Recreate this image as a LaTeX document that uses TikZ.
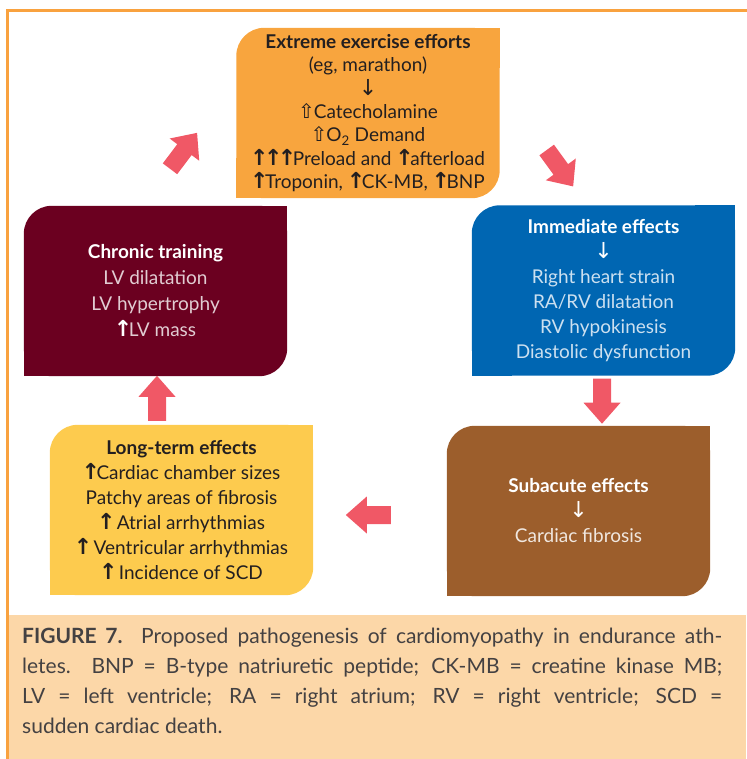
\documentclass[tikz,border=0pt]{standalone}
\usepackage{fontspec}
\setmainfont{Lato}
\newfontfamily\arrowfont{DejaVu Sans}
\usetikzlibrary{calc,backgrounds}

\definecolor{frameorange}{HTML}{F9A23F}
\definecolor{exercise}{HTML}{F8A53E}
\definecolor{chronic}{HTML}{6B0020}
\definecolor{immediate}{HTML}{0066B2}
\definecolor{subacute}{HTML}{9C5E2C}
\definecolor{longterm}{HTML}{FDCB4E}
\definecolor{arrowpink}{HTML}{F05866}
\definecolor{captionbg}{HTML}{FCD7A8}
\definecolor{darktext}{HTML}{231F20}

\newcommand{\upa}{{\arrowfont\bfseries\fontsize{22}{0}\selectfont\kern-1pt↑\kern-3.5pt}}
\newcommand{\downa}{{\arrowfont\fontsize{22}{0}\selectfont ↓}}
\newcommand{\hollowup}{{\arrowfont\fontsize{20}{0}\selectfont ⇧\kern-1pt}}

\tikzset{
	box/.style={minimum width=263pt, minimum height=170pt, inner sep=0pt, align=center,
		font=\fontsize{19}{25}\selectfont},
	fat/.pic={\fill[arrowpink] (0,9) -- (24,9) -- (24,18.5) -- (45,0) -- (24,-18.5) -- (24,-9) -- (0,-9) -- cycle;}
}

\begin{document}
\begin{tikzpicture}[x=1pt,y=-1pt]
	\useasboundingbox (0,0) rectangle (746,759);
	\fill[captionbg] (7,615) rectangle (746,759);
	\draw[frameorange, line width=3pt] (760,11) -- (7,11) -- (7,770);

	\node[box, text=darktext, font=\fontsize{19}{23.4}\selectfont] (ext) at (368,113) {\textbf{Extreme exercise efforts}\\(eg, marathon)\\\downa\\\hollowup Catecholamine\\\hollowup O\textsubscript{2} Demand\\\upa\upa\upa Preload and \upa afterload\\\upa Troponin, \upa CK-MB, \upa BNP};
	\node[box, text=white] (imm) at (603.5,290.5) {\textbf{Immediate effects}\\\downa\\\color{white!80!immediate}Right heart strain\\\color{white!80!immediate}RA/RV dilatation\\\color{white!80!immediate}RV hypokinesis\\\color{white!80!immediate}Diastolic dysfunction};
	\node[box, text=white] (sub) at (578.5,511) {\textbf{Subacute effects}\\\downa\\\color{white!85!subacute}Cardiac fibrosis};
	\node[box, text=darktext] (lng) at (181.5,510) {\textbf{Long-term effects}\\\upa Cardiac chamber sizes\\Patchy areas of fibrosis\\\upa\ Atrial arrhythmias\\\upa\ Ventricular arrhythmias\\\upa\ Incidence of SCD};
	\node[box, text=white, font=\fontsize{19}{26}\selectfont] (chr) at (155.5,291) {\textbf{Chronic training}\\\color{white!80!chronic}LV dilatation\\\color{white!80!chronic}LV hypertrophy\\\upa\color{white!80!chronic}LV mass};

	% rounded top-left and bottom-right corners only
	\begin{scope}[on background layer]
		\foreach \n/\c in {ext/exercise, imm/immediate, sub/subacute, lng/longterm, chr/chronic}{
			\fill[\c, rounded corners=28pt] (\n.north west) rectangle (\n.south east);
			\fill[\c] (\n.north east) rectangle ++(-40,40);
			\fill[\c] (\n.south west) rectangle ++(40,-40);
		}
	\end{scope}

	\pic[rotate=-54] at ($(ext.east)+(47,37)$) {fat};
	\pic[rotate=-90] at ($(imm.south)+(-1.5,3)$) {fat};
	\pic[rotate=180] at ($(sub.west)+(-56,4)$) {fat};
	\pic[rotate=90] at ($(lng.north)+(-24.5,-4)$) {fat};
	\pic[rotate=53] at ($(chr.north)+(14.5,-37)$) {fat};

	\node[anchor=north west, inner sep=0pt, align=left, text=darktext!85,
		font=\fontsize{21}{30}\selectfont] (cap) at (22,628) {%
		\makebox[700pt][s]{\textbf{FIGURE 7.} Proposed pathogenesis of cardiomyopathy in endurance ath-}\\
		\makebox[700pt][s]{letes. BNP = B-type natriuretic peptide; CK-MB = creatine kinase MB;}\\
		\makebox[700pt][s]{LV = left ventricle; RA = right atrium; RV = right ventricle; SCD =}\\
		sudden cardiac death.};
\end{tikzpicture}
\end{document}
